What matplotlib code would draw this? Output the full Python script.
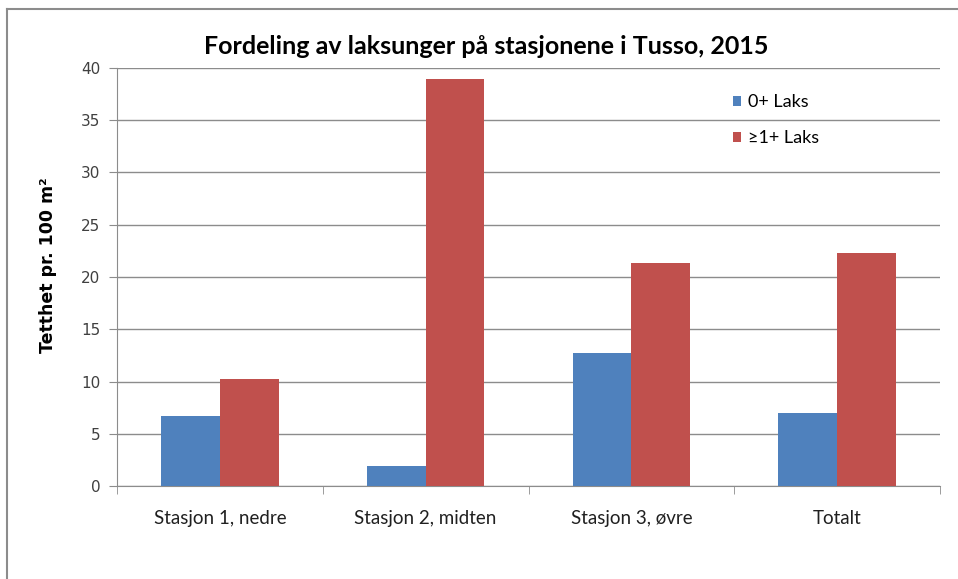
import matplotlib.pyplot as plt
import numpy as np
from matplotlib.lines import Line2D

# Data
kategorier = ['Stasjon 1, nedre', 'Stasjon 2, midten', 'Stasjon 3, øvre', 'Totalt']
laks_0 = [6.7, 1.9, 12.7, 7.0]
laks_1 = [10.2, 38.9, 21.3, 22.3]
serier = ['0+ Laks', '≥1+ Laks']
yticks = [0, 5, 10, 15, 20, 25, 30, 35, 40]

blue = '#4f81bd'
red = '#c0504d'
grid_c = '#8c8c8c'
smal = ['Lato', 'DejaVu Sans']

W, H = 958, 579
fig = plt.figure(figsize=(W / 100, H / 100), dpi=100)
# plot area in pixels: left 117, right 940, top 68, bottom 486
ax = fig.add_axes([117 / W, 1 - 486 / H, (940 - 117) / W, (486 - 68) / H])

x = np.arange(len(kategorier))
bw = 0.285
ax.bar(x - bw / 2, laks_0, bw, color=blue, label=serier[0], zorder=3)
ax.bar(x + bw / 2, laks_1, bw, color=red, label=serier[1], zorder=3)

ax.set_xlim(-0.5, len(kategorier) - 0.5)
ax.set_ylim(0, 40)
ax.set_yticks(yticks)
ax.set_yticklabels([str(v) for v in yticks], fontsize=11, color='#404040')
ax.yaxis.grid(True, color=grid_c, linewidth=1)
ax.set_axisbelow(True)

# category labels at centres, ticks at boundaries
ax.set_xticks(x)
ax.set_xticklabels(kategorier, fontsize=13.5, family=smal, color='#202020')
ax.tick_params(axis='x', length=0, pad=17)
ax.set_xticks(np.arange(len(kategorier) + 1) - 0.5, minor=True)
ax.tick_params(axis='x', which='minor', length=6, color=grid_c, direction='out')
ax.tick_params(axis='y', length=6, color=grid_c, direction='out', pad=6)

for s in ['top', 'right']:
    ax.spines[s].set_visible(False)
for s in ['left', 'bottom']:
    ax.spines[s].set_color(grid_c)

ax.set_ylabel('Tetthet pr. 100 m²', fontsize=12.5, fontweight='bold')
ax.yaxis.set_label_coords((57 - 117) / (940 - 117), (486 - 265) / (486 - 68))

fig.text(486 / W, 1 - 46 / H, 'Fordeling av laksunger på stasjonene i Tusso, 2015',
         ha='center', va='center', fontsize=18, fontweight='bold', family=smal)

ax.legend(loc='upper left', bbox_to_anchor=((717 - 117) / (940 - 117), 1 - (78 - 68) / (486 - 68)),
          frameon=False, handlelength=0.45, handleheight=0.45,
          handletextpad=0.35, labelspacing=1.1,
          prop={'family': smal, 'size': 13})

# chart area border (only top and left visible)
fig.add_artist(Line2D([7 / W, 1], [1 - 9 / H, 1 - 9 / H], color='#8c8c8c', lw=1.5))
fig.add_artist(Line2D([7 / W, 7 / W], [0, 1 - 9 / H], color='#8c8c8c', lw=1.5))

fig.savefig('out.png', dpi=100)
